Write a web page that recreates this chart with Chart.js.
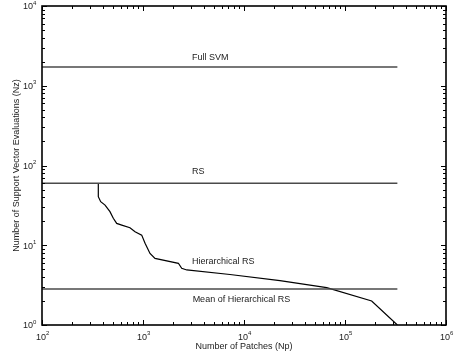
<!DOCTYPE html>
<html>
<head>
<meta charset="utf-8">
<script src="https://cdn.jsdelivr.net/npm/chart.js@4.4.1/dist/chart.umd.min.js"></script>
<style>
  html, body { margin: 0; padding: 0; background: #fff; }
  #wrap { width: 454px; height: 356px; }
</style>
</head>
<body>
<div id="wrap"><canvas id="svChart"></canvas></div>
<script>
// Hierarchical RS curve (number of patches vs. support vector evaluations)
const patches = [361, 361, 381, 421, 471, 508, 549, 616, 743, 834, 971, 1048, 1173, 1315,
                 2240, 2417, 2711, 7260, 22700, 65900, 183700, 330000];
const evals = [60, 40.6, 35.2, 31.9, 26.4, 21.8, 18.8, 17.9, 16.6, 14.8, 13.4, 10.6, 7.9, 6.85,
               5.94, 5.14, 4.9, 4.3, 3.61, 2.94, 2.0, 1.0];

// horizontal reference levels
const refNames = ['Full SVM', 'RS', 'Mean of Hierarchical RS'];
const refValues = [1720, 60, 2.83];
const refRange = [100, 330000];

// text labels placed in data coordinates
const labelTexts = ['Full SVM', 'RS', 'Hierarchical RS', 'Mean of Hierarchical RS'];
const labelX = [3050, 3050, 3050, 3100];
const labelY = [2290, 83.6, 6.2, 2.06];

// axis decades
const xExponents = [2, 3, 4, 5, 6];
const yExponents = [0, 1, 2, 3, 4];

const FONT = '"Liberation Sans", Arial, sans-serif';

const datasets = refValues.map((v, i) => ({
  label: refNames[i],
  data: refRange.map(x => ({ x: x, y: v })),
  borderColor: '#4a4a4a',
  borderWidth: 1.6,
  pointRadius: 0
}));
datasets.push({
  label: 'Hierarchical RS',
  data: patches.map((x, i) => ({ x: x, y: evals[i] })),
  borderColor: '#000',
  borderWidth: 1.2,
  pointRadius: 0
});

// frame, inward ticks, superscript tick labels, titles and text labels
const decorations = {
  id: 'decorations',
  afterDraw(chart) {
    const ctx = chart.ctx;
    const a = chart.chartArea;
    const xs = chart.scales.x, ys = chart.scales.y;
    ctx.save();

    ctx.strokeStyle = '#000';
    ctx.lineWidth = 1;
    // minor / major ticks on all four sides
    const tick = (x1, y1, x2, y2) => {
      ctx.beginPath(); ctx.moveTo(x1, y1); ctx.lineTo(x2, y2); ctx.stroke();
    };
    for (let e = xExponents[0]; e <= xExponents[xExponents.length - 1]; e++) {
      for (let m = 1; m <= 9; m++) {
        const v = m * Math.pow(10, e);
        if (v > xs.max) break;
        const px = Math.round(xs.getPixelForValue(v)) + 0.5;
        const len = m === 1 ? 5 : 3;
        tick(px, a.bottom, px, a.bottom - len);
        tick(px, a.top, px, a.top + len);
      }
    }
    for (let e = yExponents[0]; e <= yExponents[yExponents.length - 1]; e++) {
      for (let m = 1; m <= 9; m++) {
        const v = m * Math.pow(10, e);
        if (v > ys.max) break;
        const py = Math.round(ys.getPixelForValue(v)) + 0.5;
        const len = m === 1 ? 5 : 3;
        tick(a.left, py, a.left + len, py);
        tick(a.right, py, a.right - len, py);
      }
    }

    // box
    ctx.lineWidth = 1.6;
    ctx.strokeRect(a.left, a.top, a.right - a.left, a.bottom - a.top);

    ctx.fillStyle = '#222';
    // x tick labels
    xExponents.forEach(e => {
      const px = xs.getPixelForValue(Math.pow(10, e));
      ctx.font = '9px ' + FONT;
      ctx.textAlign = 'center';
      ctx.textBaseline = 'middle';
      ctx.fillText('10', px - 1, a.bottom + 13);
      ctx.font = '6px ' + FONT;
      ctx.textAlign = 'left';
      ctx.fillText(String(e), px + 4, a.bottom + 8);
    });
    // y tick labels
    yExponents.forEach(e => {
      const py = ys.getPixelForValue(Math.pow(10, e));
      ctx.font = '9px ' + FONT;
      ctx.textAlign = 'right';
      ctx.textBaseline = 'middle';
      ctx.fillText('10', a.left - 9, py + 1);
      ctx.font = '6px ' + FONT;
      ctx.textAlign = 'left';
      ctx.fillText(String(e), a.left - 9, py - 3);
    });

    // axis titles
    ctx.font = '9px ' + FONT;
    ctx.textAlign = 'center';
    ctx.textBaseline = 'middle';
    ctx.fillText('Number of Patches (Np)', (a.left + a.right) / 2, a.bottom + 22);
    ctx.save();
    ctx.translate(17, (a.top + a.bottom) / 2);
    ctx.rotate(-Math.PI / 2);
    ctx.fillText('Number of Support Vector Evaluations (Nz)', 0, 0);
    ctx.restore();

    // curve / level labels
    ctx.textAlign = 'left';
    labelTexts.forEach((t, i) => {
      ctx.fillText(t, xs.getPixelForValue(labelX[i]), ys.getPixelForValue(labelY[i]));
    });
    ctx.restore();
  }
};

const ctx = document.getElementById('svChart').getContext('2d');
const svChart = new Chart(ctx, {
  type: 'line',
  data: { datasets: datasets },
  options: {
    responsive: true,
    maintainAspectRatio: false,
    animation: false,
    layout: { padding: { left: 42, right: 8, top: 6, bottom: 31 } },
    elements: { line: { tension: 0 } },
    plugins: {
      legend: { display: false },
      tooltip: { enabled: false }
    },
    scales: {
      x: { type: 'logarithmic', min: 100, max: 1e6, display: false },
      y: { type: 'logarithmic', min: 1, max: 1e4, display: false }
    }
  },
  plugins: [decorations]
});
</script>
</body>
</html>
